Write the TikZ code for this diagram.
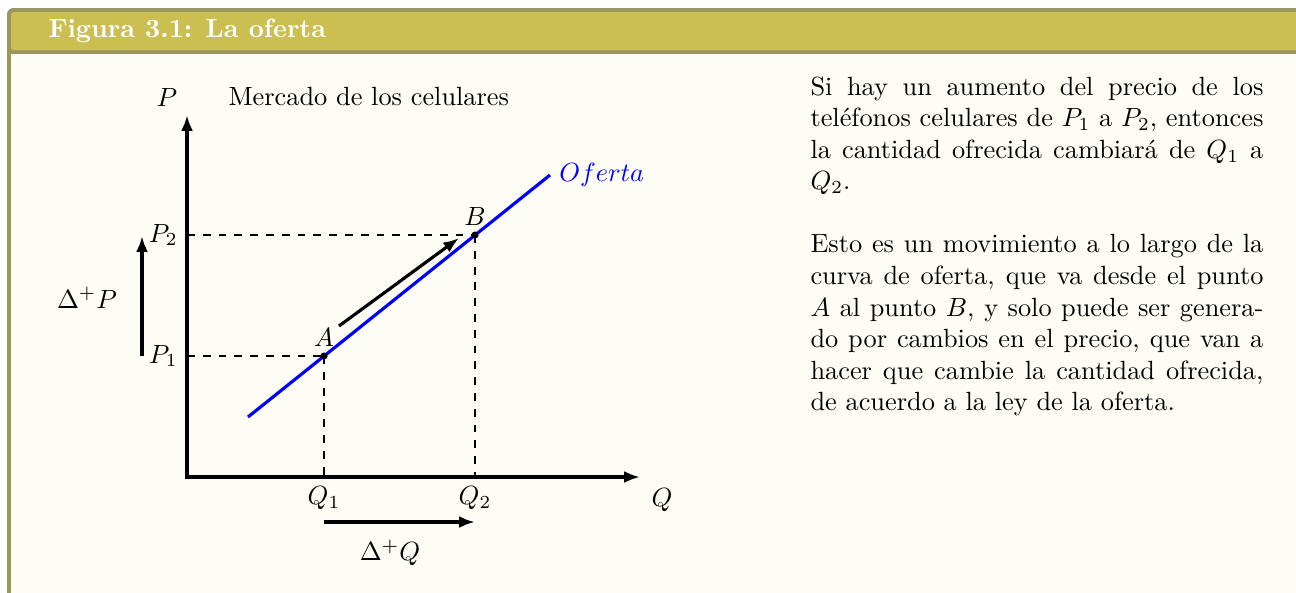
\documentclass[tikz,border=0pt]{standalone}
\usetikzlibrary{arrows.meta}
\definecolor{framecol}{RGB}{154,150,96}
\definecolor{titlecol}{RGB}{203,191,82}
\definecolor{backcol}{RGB}{254,253,245}
\begin{document}
\begin{tikzpicture}[x=0.3798pt,y=-0.3798pt,
  arr/.style={very thick,-{Latex[length=6pt,width=4.5pt]}},
  guide/.style={dashed,thin},
  dotpt/.style={fill=black}]
\useasboundingbox (0,0) rectangle (1296,592);
\clip (0,0) rectangle (1296,592);
% frame
\fill[framecol, rounded corners=2.4pt] (7,8) rectangle (1330,630);
\fill[titlecol, rounded corners=1pt] (11,12) rectangle (1326,50);
\fill[backcol] (11,54) rectangle (1326,626);
\node[anchor=base west, text=white, font=\bfseries, inner sep=0] (title) at (48,37) {Figura 3.1: La oferta};
% axes
\coordinate (O) at (187,477);
\coordinate (ytip) at (187,115);
\coordinate (xtip) at (640,477);
\draw[very thick, {Latex[length=6pt,width=4.5pt]}-{Latex[length=6pt,width=4.5pt]}] (ytip) -- (O) -- (xtip);
\node (Plab) at (167,97) {$P$};
\node[anchor=base west, inner sep=0] (mercado) at (228,105) {Mercado de los celulares};
\node (Qlab) at (662,500) {$Q$};
% points
\coordinate (A) at (324,356);
\coordinate (B) at (475,235);
\coordinate (yP1) at (187,356);
\coordinate (yP2) at (187,235);
\coordinate (xQ1) at (324,477);
\coordinate (xQ2) at (475,477);
\draw[guide] (yP1) -- (A);
\draw[guide] (yP2) -- (B);
\draw[guide] (A) -- (xQ1);
\draw[guide] (B) -- (xQ2);
\node[left] (P1) at (yP1) {$P_1$};
\node[left] (P2) at (yP2) {$P_2$};
\node[below] (Q1) at (xQ1) {$Q_1$};
\node[below] (Q2) at (xQ2) {$Q_2$};
% supply curve
\coordinate (S0) at (248,417);
\coordinate (S1) at (550,175);
\draw[blue, very thick] (S0) -- (S1);
\node[right, text=blue] (ofe) at (S1) {$Oferta$};
\fill[dotpt] (A) circle (1.35pt);
\fill[dotpt] (B) circle (1.35pt);
\node[above] (Alab) at (A) {$A$};
\node[above] (Blab) at (B) {$B$};
% movement arrow
\coordinate (m0) at (339,326);
\coordinate (m1) at (459,238);
\draw[arr] (m0) -- (m1);
% delta arrows
\coordinate (dp0) at (142,356);
\coordinate (dp1) at (142,236);
\draw[arr] (dp0) -- (dp1);
\node (dPlab) at (87,298) {$\Delta^{+}P$};
\coordinate (dq0) at (324,522);
\coordinate (dq1) at (475,522);
\draw[arr] (dq0) -- (dq1);
\node (dQlab) at (390,553) {$\Delta^{+}Q$};
% text
\node[anchor=base west, inner sep=0] (txt) at (810,95) {\parbox[t]{172pt}{Si hay un aumento del precio de los\linebreak
teléfonos celulares de $P_1$ a $P_2$, entonces\linebreak
la cantidad ofrecida cambiará de $Q_1$ a\linebreak
$Q_2$.\par\vspace{12pt}
Esto es un movimiento a lo largo de la\linebreak
curva de oferta, que va desde el punto\linebreak
$A$ al punto $B$, y solo puede ser genera-\linebreak
do por cambios en el precio, que van a\linebreak
hacer que cambie la cantidad ofrecida,\linebreak
de acuerdo a la ley de la oferta.}};
\end{tikzpicture}
\end{document}
